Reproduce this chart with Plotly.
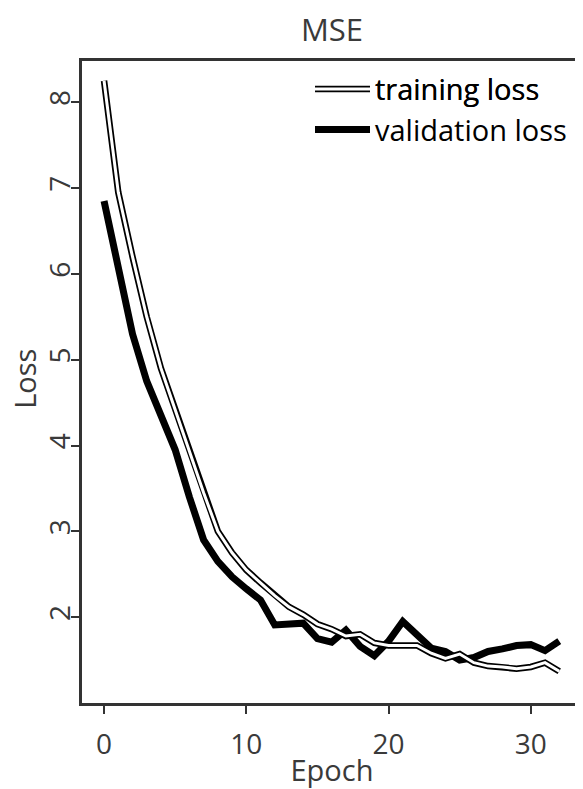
import plotly.graph_objects as go

epochs = list(range(33))
training_loss = [8.25, 6.95, 6.2, 5.5, 4.9, 4.42, 3.92, 3.45, 3.0, 2.75, 2.55,
                 2.4, 2.25, 2.12, 2.03, 1.92, 1.86, 1.78, 1.8, 1.7, 1.67,
                 1.67, 1.67, 1.58, 1.52, 1.57, 1.47, 1.43, 1.42, 1.40, 1.42,
                 1.47, 1.37]
validation_loss = [6.85, 6.05, 5.3, 4.75, 4.35, 3.95, 3.4, 2.9, 2.65, 2.47, 2.33,
                   2.2, 1.91, 1.93, 1.93, 1.75, 1.71, 1.85, 1.66, 1.55, 1.72,
                   1.95, 1.8, 1.64, 1.6, 1.5, 1.53, 1.6, 1.63, 1.67, 1.68,
                   1.61, 1.72]
x_ticks = [0, 10, 20, 30]
y_ticks = [2, 3, 4, 5, 6, 7, 8]

axis_color = "#333333"
text_color = "#3a3a3a"
tick_font = dict(family="Open Sans, Noto Sans, sans-serif", size=28, color=text_color)
title_font = dict(family="Open Sans, Noto Sans, sans-serif", size=29, color=text_color)

fig = go.Figure()
fig.add_trace(go.Scatter(
    x=epochs, y=validation_loss, mode="lines", name="validation loss",
    line=dict(color="black", width=7), legend="legend", legendrank=2,
))
fig.add_trace(go.Scatter(
    x=epochs, y=training_loss, mode="lines", name="training loss",
    line=dict(color="black", width=6.5), legend="legend", legendrank=1,
))
fig.add_trace(go.Scatter(
    x=epochs, y=training_loss, mode="lines", name="training loss",
    line=dict(color="white", width=3), legend="legend2", legendrank=1,
))

legend_common = dict(
    x=0.456, y=0.996, xanchor="left", yanchor="top",
    bgcolor="rgba(0,0,0,0)", borderwidth=0,
    font=dict(family="Open Sans, Noto Sans, sans-serif", size=29, color="black"),
    itemwidth=55, tracegroupgap=0,
)

# page body has an 8px default margin, so the figure is sized to fit the window
fig.update_layout(
    width=575, height=781,
    margin=dict(l=74, r=1, t=53, b=86, autoexpand=False),
    paper_bgcolor="white", plot_bgcolor="white",
    title=dict(text="MSE", x=0.5, xref="paper", xanchor="center", y=1 - 22 / 781,
               yref="container", yanchor="middle",
               font=dict(family="Open Sans, Noto Sans, sans-serif", size=31, color=text_color)),
    showlegend=True,
    legend=legend_common,
    legend2=legend_common,
    xaxis=dict(
        range=[-1.55, 33.6], tickvals=x_ticks, ticktext=[str(v) for v in x_ticks],
        showgrid=False, zeroline=False, showline=True, mirror=True, automargin=False,
        linecolor=axis_color, linewidth=2.5, ticks="outside", ticklen=8,
        tickwidth=2, tickcolor=axis_color, tickfont=tick_font, ticklabelstandoff=7,
        title=dict(text="Epoch", font=title_font, standoff=4),
    ),
    yaxis=dict(
        range=[1.0, 8.48], tickvals=y_ticks, ticktext=[str(v) for v in y_ticks],
        showgrid=False, zeroline=False, showline=True, mirror=True, automargin=False,
        linecolor=axis_color, linewidth=2.5, ticks="outside", ticklen=8,
        tickwidth=2, tickcolor=axis_color, tickfont=tick_font, tickangle=-90,
        ticklabelstandoff=-10,
    ),
    annotations=[dict(
        text="Loss", textangle=-90, xref="paper", yref="paper",
        x=-0.114, y=0.505, xanchor="center", yanchor="middle",
        showarrow=False, font=title_font,
    )],
)

fig.write_html("out.html")
